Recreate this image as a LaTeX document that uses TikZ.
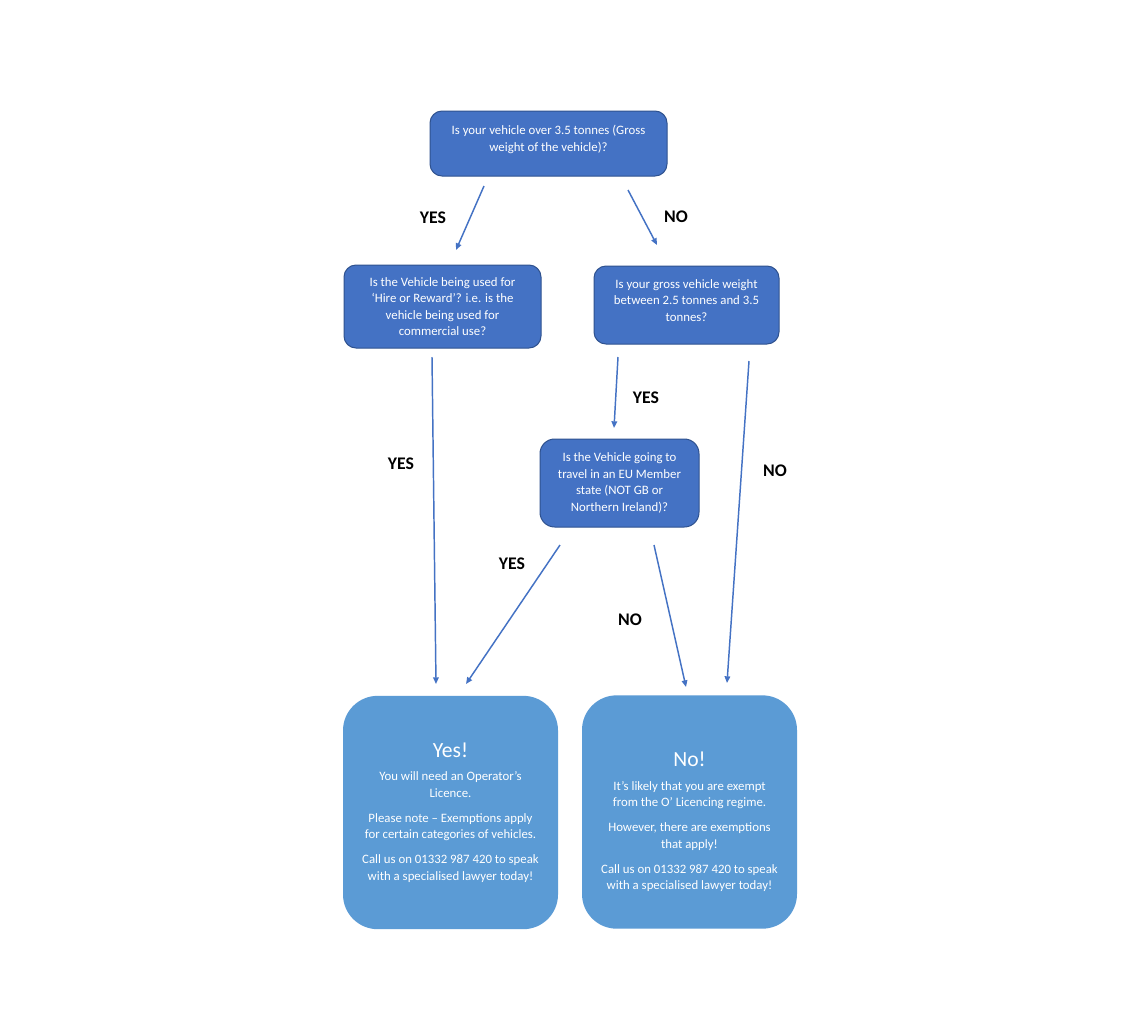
\documentclass[tikz,border=0pt]{standalone}
\usepackage{fontspec}
\setmainfont{Carlito}
\usetikzlibrary{arrows.meta}
\definecolor{qblue}{HTML}{4472C4}
\definecolor{qedge}{HTML}{2F528F}
\definecolor{rblue}{HTML}{5B9BD5}
\tikzset{
  qbox/.style={draw=qedge, line width=0.75pt, fill=qblue, rounded corners=9pt,
    text=white, align=center, font=\fontsize{9.6}{12.4}\selectfont, inner sep=0pt},
  rbox/.style={fill=rblue, rounded corners=26pt, inner sep=0pt,
    minimum width=161.25pt, minimum height=175pt},
  qtext/.style={text=white, align=center, font=\fontsize{9.6}{12.4}\selectfont, inner sep=0pt},
  ans/.style={font=\bfseries\fontsize{13.3}{15}\selectfont, inner sep=0pt},
  flow/.style={draw=qblue, line width=1.1pt, -{Triangle[length=5pt,width=4.2pt]}},
}
\begin{document}
\begin{tikzpicture}[x=0.75pt,y=-0.75pt]
\useasboundingbox (0,0) rectangle (1143,1032);
\fill[white] (0,0) rectangle (1143,1032);

% question boxes
\node[qbox, minimum width=177.75pt, minimum height=48.75pt] (top) at (548.5,143.5) {};
\node[qtext] (toptext) at (548.5,139.5) {Is your vehicle over 3.5 tonnes (Gross\\weight of the vehicle)?};

\node[qbox, minimum width=147.75pt, minimum height=62.25pt] (hire) at (442.5,306.5)
  {Is the Vehicle being used for\\‘Hire or Reward’? i.e. is the\\vehicle being used for\\commercial use?};

\node[qbox, minimum width=138.75pt, minimum height=58.5pt] (gross) at (686.5,305) {};
\node[qtext] (grosstext) at (686.5,300.5) {Is your gross vehicle weight\\between 2.5 tonnes and 3.5\\tonnes?};

\node[qbox, rounded corners=11pt, minimum width=119.25pt, minimum height=66pt] (eu) at (619.5,483)
  {Is the Vehicle going to\\travel in an EU Member\\state (NOT GB or\\Northern Ireland)?};

% result boxes
\node[rbox] (yesbox) at (450.5,812.5) {};
\node[qtext] (yestext) at (450.5,812.5) {{\fontsize{16.2}{17}\selectfont Yes!}\\[5pt]
  You will need an Operator’s\\Licence.\\[6.3pt]
  Please note – Exemptions apply\\for certain categories of vehicles.\\[6.3pt]
  Call us on 01332 987 420 to speak\\with a specialised lawyer today!};

\node[rbox] (nobox) at (689.5,812) {};
\node[qtext] (notext) at (689.5,822) {{\fontsize{16.2}{17}\selectfont No!}\\[5pt]
  It’s likely that you are exempt\\from the O’ Licencing regime.\\[6.3pt]
  However, there are exemptions\\that apply!\\[6.3pt]
  Call us on 01332 987 420 to speak\\with a specialised lawyer today!};

% connector end points
\coordinate (a1) at (484,186); \coordinate (a2) at (456,250);
\coordinate (b1) at (628,190); \coordinate (b2) at (657,245);
\coordinate (c1) at (432,357); \coordinate (c2) at (436,684);
\coordinate (d1) at (618,357); \coordinate (d2) at (614,428);
\coordinate (e1) at (749,361); \coordinate (e2) at (727,683);
\coordinate (f1) at (560,545); \coordinate (f2) at (466,684);
\coordinate (g1) at (654,545); \coordinate (g2) at (686,687);

\draw[flow] (a1) -- (a2);
\draw[flow] (b1) -- (b2);
\draw[flow] (c1) -- (c2);
\draw[flow] (d1) -- (d2);
\draw[flow] (e1) -- (e2);
\draw[flow] (f1) -- (f2);
\draw[flow] (g1) -- (g2);

% answer labels
\node[ans] (l1) at (433,218) {YES};
\node[ans] (l2) at (676,217) {NO};
\node[ans] (l3) at (401,464) {YES};
\node[ans] (l4) at (646,398) {YES};
\node[ans] (l5) at (775,471) {NO};
\node[ans] (l6) at (512,564) {YES};
\node[ans] (l7) at (630,620) {NO};
\end{tikzpicture}
\end{document}
